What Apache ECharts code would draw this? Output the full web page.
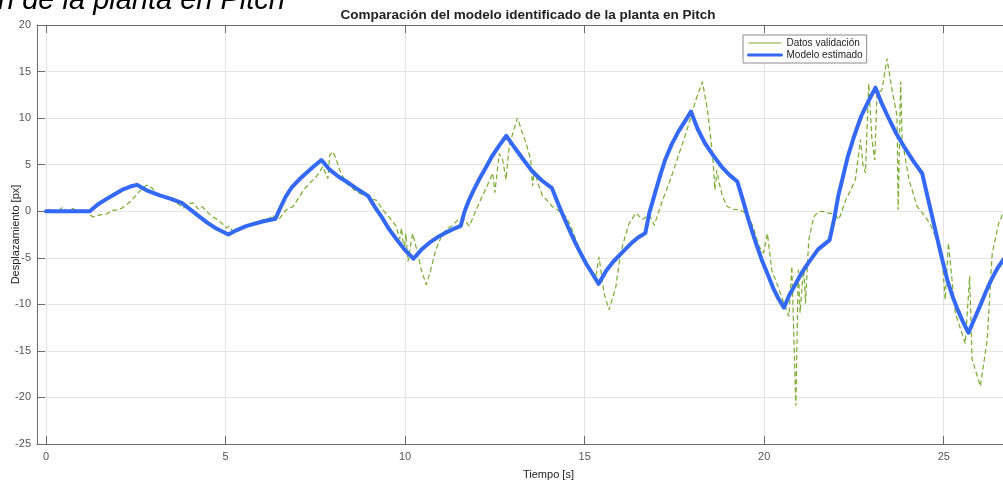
<!DOCTYPE html>
<html>
<head>
<meta charset="utf-8">
<script src="https://cdn.jsdelivr.net/npm/echarts@6/dist/echarts.min.js"></script>
<style>
html,body{margin:0;padding:0;background:#fff;}
#chart{width:1003px;height:483px;}
</style>
</head>
<body>
<div id="chart"></div>
<script>
// ---- Data ----
const xTickValues = [0, 5, 10, 15, 20, 25];

const timeValidacion = [
  0.00, 0.15, 0.30, 0.45, 0.60, 0.75, 0.90, 1.05, 1.20, 1.30, 1.50, 1.69, 1.85, 1.97, 2.10, 2.24, 2.40, 2.52, 2.65, 2.80,
  2.95, 3.08, 3.20, 3.36, 3.50, 3.63, 3.75, 3.82, 3.95, 4.10, 4.25, 4.35, 4.47, 4.60, 4.75, 4.90, 5.02, 5.10, 5.21, 5.35,
  5.49, 5.65, 5.86, 6.05, 6.23, 6.30, 6.42, 6.51, 6.69, 6.88, 7.06, 7.20, 7.34, 7.53, 7.71, 7.85, 7.90, 7.99, 8.08, 8.18,
  8.36, 8.50, 8.64, 8.80, 8.92, 9.05, 9.20, 9.38, 9.57, 9.75, 9.85, 9.90, 9.97, 10.02, 10.08, 10.21, 10.35, 10.45, 10.59, 10.70,
  10.86, 11.05, 11.20, 11.33, 11.45, 11.60, 11.79, 11.98, 12.10, 12.26, 12.44, 12.50, 12.62, 12.72, 12.81, 12.90, 13.00, 13.13, 13.25, 13.37,
  13.50, 13.55, 13.60, 13.70, 13.83, 13.95, 14.10, 14.30, 14.48, 14.60, 14.76, 14.99, 15.15, 15.31, 15.40, 15.54, 15.68, 15.87, 16.00, 16.12,
  16.24, 16.43, 16.61, 16.80, 16.94, 17.05, 17.17, 17.30, 17.45, 17.63, 17.78, 17.91, 18.10, 18.28, 18.42, 18.56, 18.63, 18.68, 18.75, 18.84,
  18.97, 19.15, 19.30, 19.45, 19.58, 19.70, 19.86, 19.98, 20.09, 20.22, 20.32, 20.45, 20.55, 20.69, 20.77, 20.88, 20.95, 21.00, 21.10, 21.15,
  21.24, 21.38, 21.50, 21.62, 21.80, 21.95, 22.08, 22.27, 22.40, 22.54, 22.68, 22.75, 22.82, 22.91, 23.00, 23.08, 23.14, 23.28, 23.42, 23.56,
  23.70, 23.73, 23.80, 23.84, 24.03, 24.26, 24.49, 24.65, 24.77, 24.95, 25.04, 25.13, 25.32, 25.60, 25.72, 25.79, 26.02, 26.21, 26.35, 26.53,
  26.70
];
const datosValidacion = [
  0.0, 0.3, -0.2, 0.4, 0.0, 0.3, -0.1, 0.3, -0.3, -0.6, -0.4, -0.3, 0.1, 0.15, 0.3, 0.7, 1.2, 1.8, 2.3, 2.8,
  2.5, 1.9, 1.6, 1.4, 1.2, 0.9, 0.6, 0.3, 0.8, 0.9, 0.2, 0.5, 0.0, -0.5, -0.85, -1.3, -1.8, -1.6, -2.2, -1.9,
  -1.7, -1.5, -1.2, -0.9, -0.75, -0.4, -0.9, -0.75, 0.15, 0.5, 1.6, 2.4, 3.0, 3.7, 4.8, 3.5, 6.0, 6.4, 5.6, 4.4,
  3.0, 2.6, 2.1, 1.8, 1.6, 1.3, 1.2, 0.15, -0.7, -1.6, -3.0, -1.8, -4.2, -2.4, -5.4, -2.4, -4.5, -6.3, -7.9, -6.5,
  -4.1, -2.35, -1.8, -1.5, -1.0, -0.7, -1.6, 0.15, 1.2, 2.5, 4.1, 2.0, 6.2, 5.5, 3.4, 7.0, 8.4, 10.0, 8.6, 7.3,
  5.5, 2.7, 4.4, 3.0, 1.6, 1.2, 0.5, 0.0, -0.6, -1.5, -3.1, -5.2, -6.2, -7.0, -4.9, -8.8, -10.6, -8.1, -4.5, -2.8,
  -1.3, -0.2, -0.9, -0.4, -1.5, -0.2, 1.2, 2.5, 4.1, 6.2, 7.9, 9.5, 12.0, 13.9, 10.9, 6.2, 2.3, 4.4, 3.0, 1.6,
  0.5, 0.2, 0.15, -0.1, -0.6, -1.8, -3.8, -4.5, -2.4, -6.6, -7.4, -8.8, -9.9, -11.3, -5.9, -20.9, -6.3, -10.9, -5.9, -9.9,
  -3.1, -0.6, -0.1, 0.0, -0.2, -0.3, -0.9, 1.2, 2.2, 3.4, 7.7, 5.0, 4.1, 13.7, 7.7, 5.5, 12.7, 13.0, 16.4, 13.0,
  10.2, 0.15, 13.9, 7.7, 3.4, 0.5, -0.6, -1.6, -2.7, -4.9, -9.5, -3.4, -10.9, -14.2, -7.0, -15.9, -18.8, -13.8, -4.5, -1.3,
  0.2
];

const timeModelo = [
  0.00, 1.22, 1.45, 1.68, 1.90, 2.15, 2.35, 2.53, 2.80, 3.17, 3.50, 3.78, 4.05, 4.28, 4.50, 4.74, 5.08, 5.30, 5.57, 6.03,
  6.39, 6.53, 6.68, 6.85, 7.05, 7.25, 7.42, 7.67, 7.89, 8.15, 8.44, 8.70, 8.97, 9.15, 9.37, 9.55, 9.74, 9.98, 10.23, 10.45,
  10.67, 10.90, 11.13, 11.35, 11.55, 11.65, 11.78, 11.92, 12.06, 12.25, 12.42, 12.62, 12.82, 13.00, 13.17, 13.35, 13.54, 13.81, 14.09, 14.22,
  14.37, 14.55, 14.74, 14.90, 15.06, 15.23, 15.39, 15.60, 15.80, 16.00, 16.31, 16.50, 16.69, 16.80, 16.96, 17.10, 17.24, 17.42, 17.61, 17.80,
  17.96, 18.15, 18.35, 18.58, 18.81, 19.03, 19.25, 19.40, 19.56, 19.75, 19.93, 20.10, 20.25, 20.40, 20.55, 20.70, 20.85, 21.03, 21.22, 21.50,
  21.82, 21.95, 22.06, 22.20, 22.33, 22.50, 22.70, 22.90, 23.10, 23.27, 23.44, 23.67, 23.90, 24.15, 24.40, 24.57, 24.74, 24.92, 25.10, 25.25,
  25.39, 25.55, 25.69, 25.85, 26.04, 26.18, 26.32, 26.50, 26.70
];
const modeloEstimado = [
  0.0, 0.0, 0.75, 1.3, 1.8, 2.35, 2.65, 2.83, 2.25, 1.7, 1.3, 0.9, 0.1, -0.6, -1.25, -1.85, -2.5, -2.05, -1.6, -1.1,
  -0.8, 0.4, 1.6, 2.6, 3.4, 4.1, 4.7, 5.5, 4.5, 3.7, 3.0, 2.3, 1.65, 0.5, -0.75, -1.9, -2.9, -4.1, -5.1, -4.15,
  -3.4, -2.8, -2.3, -1.9, -1.57, -0.1, 1.2, 2.35, 3.4, 4.7, 5.9, 7.05, 8.1, 7.1, 6.2, 5.25, 4.3, 3.3, 2.48, 1.2,
  -0.2, -1.8, -3.4, -4.6, -5.75, -6.8, -7.8, -6.4, -5.4, -4.6, -3.4, -2.8, -2.35, -0.2, 1.94, 3.8, 5.5, 7.15, 8.55, 9.7,
  10.7, 8.8, 7.3, 6.0, 4.8, 3.9, 3.2, 1.3, -0.9, -3.2, -5.2, -6.8, -8.25, -9.4, -10.35, -9.0, -8.0, -6.7, -5.6, -4.1,
  -3.1, -0.8, 1.6, 3.8, 5.9, 8.0, 10.2, 11.8, 13.27, 11.6, 10.2, 8.4, 6.9, 5.4, 4.05, 1.2, -1.6, -4.6, -7.4, -9.2,
  -10.6, -12.0, -13.05, -11.6, -9.9, -8.6, -7.4, -6.1, -5.0
];

// ---- Chart ----
const pairs = (xs, ys) => xs.map((x, i) => [x, ys[i]]);
const FONT = '"Liberation Sans", Arial, Helvetica, sans-serif';
const AXIS_COLOR = '#6b6b6b';
const GRID_COLOR = '#e4e4e4';
const HIDDEN_SYMBOL = {opacity: 0, color: 'rgba(0,0,0,0)', borderWidth: 0};

const chart = echarts.init(document.getElementById('chart'), null, {renderer: 'canvas'});
chart.setOption({
  animation: false,
  backgroundColor: '#ffffff',
  textStyle: {fontFamily: FONT},
  title: {
    text: 'Comparación del modelo identificado de la planta en Pitch',
    left: 523, top: 3, textAlign: 'center',
    textStyle: {fontSize: 13.5, fontWeight: 'bold', color: '#222', fontFamily: FONT}
  },
  graphic: [
    {
      type: 'text', left: -2, top: -14, silent: true,
      style: {text: 'n de la planta en Pitch', font: 'italic 29px ' + FONT, fill: '#000'}
    },
    {
      type: 'text', left: 523, top: 469, silent: true,
      style: {text: 'Tiempo [s]', font: '11px ' + FONT, fill: '#222'}
    }
  ],
  legend: {
    orient: 'vertical',
    left: 743, top: 35,
    itemWidth: 33, itemHeight: 10, itemGap: 2,
    padding: [3, 4, 3, 4],
    backgroundColor: '#fff',
    borderColor: '#8a8a8a', borderWidth: 1, borderRadius: 0,
    textStyle: {fontSize: 10, color: '#222', fontFamily: FONT},
    data: [
      {name: 'Datos validación', itemStyle: HIDDEN_SYMBOL, lineStyle: {type: 'solid', width: 1}},
      {name: 'Modelo estimado', itemStyle: HIDDEN_SYMBOL, lineStyle: {width: 3}}
    ]
  },
  grid: {left: 37, right: 0, top: 25, bottom: 39, containLabel: false, outerBoundsMode: 'none'},
  xAxis: [
    {
      type: 'value', min: -0.25, max: 26.65,
      axisLine: {show: true, onZero: false, lineStyle: {color: AXIS_COLOR, width: 1}},
      axisTick: {show: true, inside: true, length: 8, customValues: xTickValues, lineStyle: {color: AXIS_COLOR}},
      axisLabel: {customValues: xTickValues, fontSize: 11, color: '#555', margin: 7, fontFamily: FONT},
      splitLine: {show: true, lineStyle: {color: GRID_COLOR, width: 1}}
    },
    {
      type: 'value', position: 'top', min: -0.25, max: 26.65,
      axisLine: {show: true, onZero: false, lineStyle: {color: AXIS_COLOR, width: 1}},
      axisTick: {show: true, inside: true, length: 8, customValues: xTickValues, lineStyle: {color: AXIS_COLOR}},
      axisLabel: {show: false, customValues: xTickValues},
      splitLine: {show: false}
    }
  ],
  yAxis: {
    type: 'value', min: -25, max: 20, interval: 5,
    name: 'Desplazamiento [px]', nameLocation: 'middle', nameGap: 16, nameMoveOverlap: false,
    nameTextStyle: {fontSize: 11, color: '#222', fontFamily: FONT},
    axisLine: {show: true, onZero: false, lineStyle: {color: AXIS_COLOR, width: 1}},
    axisTick: {show: true, inside: true, length: 8, lineStyle: {color: AXIS_COLOR}},
    axisLabel: {fontSize: 11, color: '#555', margin: 6, fontFamily: FONT},
    splitLine: {show: true, lineStyle: {color: GRID_COLOR, width: 1}}
  },
  series: [
    {
      name: 'Datos validación', type: 'line', xAxisIndex: 0,
      data: pairs(timeValidacion, datosValidacion),
      showSymbol: false, symbol: 'none',
      lineStyle: {color: '#77ac30', width: 1.2, type: [5, 3]},
      itemStyle: {color: '#77ac30'},
      z: 2
    },
    {
      name: 'Modelo estimado', type: 'line', xAxisIndex: 0,
      data: pairs(timeModelo, modeloEstimado),
      showSymbol: false, symbol: 'none',
      lineStyle: {color: '#3469f5', width: 4, cap: 'round', join: 'round'},
      itemStyle: {color: '#3469f5'},
      z: 3
    }
  ]
});
</script>
</body>
</html>
